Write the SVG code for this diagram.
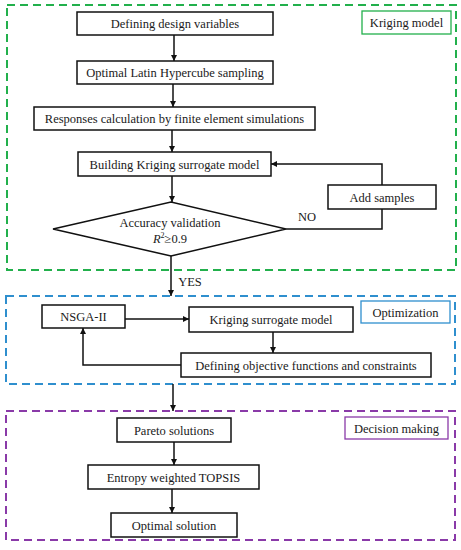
<svg xmlns="http://www.w3.org/2000/svg" width="461" height="550" viewBox="0 0 461 550">
<style>
text{font-family:'Liberation Serif','Times New Roman','DejaVu Serif',serif;font-size:12.5px;fill:#1a1a1a;text-anchor:middle}
.box{fill:#fff;stroke:#111;stroke-width:1.5}
.con{fill:none;stroke:#111;stroke-width:1.5}
.dash{fill:none;stroke-width:2;stroke-dasharray:8 5}
</style>
<defs>
<marker id="ah" viewBox="0 0 10 10" refX="10" refY="5" markerWidth="6" markerHeight="6" markerUnits="userSpaceOnUse" orient="auto">
<path d="M0,0 L10,5 L0,10 z" fill="#111"/>
</marker>
</defs>
<rect width="461" height="550" fill="#fff"/>

<g id="kriging-group">
<rect class="dash" x="7" y="5" width="449" height="265" stroke="#22b04c"/>
<rect x="362" y="11" width="89" height="23" fill="#fff" stroke="#22b04c" stroke-width="1.3"/>
<text x="406.5" y="27">Kriging model</text>
</g>
<g id="optimization-group">
<rect class="dash" x="6" y="296" width="449" height="88" stroke="#2f8fce"/>
<rect x="361" y="301" width="89" height="22" fill="#fff" stroke="#2f8fce" stroke-width="1.3"/>
<text x="405.5" y="316.5">Optimization</text>
</g>
<g id="decision-group">
<rect class="dash" x="6" y="411" width="449" height="129" stroke="#8a3aa8"/>
<rect x="345" y="417" width="103" height="22" fill="#fff" stroke="#8a3aa8" stroke-width="1.3"/>
<text x="396.5" y="432.5">Decision making</text>
</g>

<g id="connectors">
<line class="con" x1="174" y1="35" x2="174" y2="61" marker-end="url(#ah)"/>
<line class="con" x1="173" y1="84" x2="173" y2="107" marker-end="url(#ah)"/>
<line class="con" x1="172" y1="130" x2="172" y2="152" marker-end="url(#ah)"/>
<line class="con" x1="172" y1="176" x2="172" y2="202" marker-end="url(#ah)"/>
<polyline class="con" points="286,229 382,229 382,209"/>
<polyline class="con" points="382,185 382,164 271,164" marker-end="url(#ah)"/>
<line class="con" x1="171" y1="256" x2="171" y2="296" marker-end="url(#ah)"/>
<line class="con" x1="125" y1="319" x2="189" y2="319" marker-end="url(#ah)"/>
<line class="con" x1="273" y1="332" x2="273" y2="353" marker-end="url(#ah)"/>
<polyline class="con" points="181,365 83,365 83,328" marker-end="url(#ah)"/>
<line class="con" x1="173" y1="384" x2="173" y2="411" marker-end="url(#ah)"/>
<line class="con" x1="174" y1="442" x2="174" y2="465" marker-end="url(#ah)"/>
<line class="con" x1="172" y1="489" x2="172" y2="513" marker-end="url(#ah)"/>
<text x="307" y="221">NO</text>
<text x="190" y="286">YES</text>
</g>

<g id="n1"><rect class="box" x="77" y="12" width="196" height="23"/><text x="175" y="28">Defining design variables</text></g>
<g id="n2"><rect class="box" x="77" y="61" width="196" height="23"/><text x="175" y="77">Optimal Latin Hypercube sampling</text></g>
<g id="n3"><rect class="box" x="34" y="107" width="281" height="23"/><text x="174.5" y="123">Responses calculation by finite element simulations</text></g>
<g id="n4"><rect class="box" x="78" y="152" width="193" height="24"/><text x="174.5" y="168.5">Building Kriging surrogate model</text></g>
<g id="n5"><polygon class="box" points="53,229 171,202 286,229 171,256"/><text x="170" y="227">Accuracy validation</text><text x="170" y="243"><tspan font-style="italic">R</tspan><tspan font-size="8" dy="-5">2</tspan><tspan dy="5">≥0.9</tspan></text></g>
<g id="n6"><rect class="box" x="328" y="185" width="108" height="24"/><text x="382" y="201.5">Add samples</text></g>
<g id="n7"><rect class="box" x="42" y="305" width="83" height="23"/><text x="83.5" y="321">NSGA-II</text></g>
<g id="n8"><rect class="box" x="189" y="307" width="164" height="25"/><text x="271" y="324">Kriging surrogate model</text></g>
<g id="n9"><rect class="box" x="181" y="353" width="250" height="24"/><text x="306" y="369.5">Defining objective functions and constraints</text></g>
<g id="n10"><rect class="box" x="117" y="418" width="114" height="24"/><text x="174" y="434.5">Pareto solutions</text></g>
<g id="n11"><rect class="box" x="88" y="465" width="171" height="24"/><text x="173.5" y="481.5">Entropy weighted  TOPSIS</text></g>
<g id="n12"><rect class="box" x="111" y="513" width="126" height="24"/><text x="174" y="529.5">Optimal solution</text></g>
</svg>
